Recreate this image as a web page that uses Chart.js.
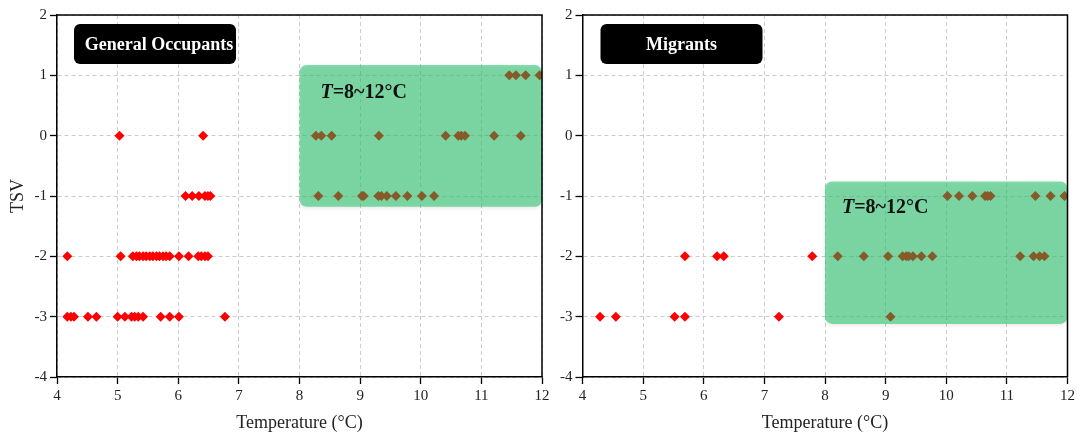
<!DOCTYPE html>
<html>
<head>
<meta charset="utf-8">
<script src="https://cdn.jsdelivr.net/npm/chart.js@4/dist/chart.umd.min.js"></script>
<style>
  html, body { margin: 0; padding: 0; background: #fff; }
  #wrap { position: relative; width: 1078px; height: 437px; }
  canvas { position: absolute; top: 0; }
  #c1 { left: 0; }
  #c2 { left: 555px; }
</style>
</head>
<body>
<div id="wrap">
  <canvas id="c1" width="555" height="437"></canvas>
  <canvas id="c2" width="523" height="437"></canvas>
</div>
<script>
// Axis ticks
const tempTicks = [4, 5, 6, 7, 8, 9, 10, 11, 12];
const tsvTicks = [2, 1, 0, -1, -2, -3, -4];

// Comfort band (temperature range and TSV extent of the shaded box)
const bandTemp = [8, 12];
const bandTsvGeneral = [1.17, -1.18];
const bandTsvMigrants = [-0.76, -3.12];

// General occupants, T < 8 °C (red)
const genColdTSV0 = [5.03, 6.41];
const genColdTSVm1 = [6.12, 6.23, 6.34, 6.44, 6.49, 6.53];
const genColdTSVm2 = [4.17, 5.05, 5.25, 5.31, 5.36, 5.42, 5.47, 5.53, 5.58, 5.64, 5.69, 5.75, 5.80, 5.86, 6.01, 6.17, 6.33, 6.38, 6.44, 6.49];
const genColdTSVm3 = [4.17, 4.23, 4.28, 4.51, 4.65, 5.00, 5.12, 5.23, 5.28, 5.34, 5.42, 5.71, 5.86, 6.01, 6.77];

// General occupants, T = 8~12 °C (brown)
const genWarmTSV1 = [11.46, 11.57, 11.73, 11.96];
const genWarmTSV0 = [8.27, 8.36, 8.53, 9.31, 10.41, 10.62, 10.67, 10.73, 11.21, 11.65];
const genWarmTSVm1 = [8.31, 8.64, 9.03, 9.06, 9.30, 9.35, 9.44, 9.59, 9.78, 10.02, 10.22];

// Migrants, T < 8 °C (red)
const migColdTSVm2 = [5.69, 6.22, 6.33, 7.79];
const migColdTSVm3 = [4.29, 4.55, 5.52, 5.69, 7.24];

// Migrants, T = 8~12 °C (brown)
const migWarmTSVm1 = [10.02, 10.21, 10.43, 10.64, 10.68, 10.73, 11.47, 11.72, 11.95];
const migWarmTSVm2 = [8.21, 8.64, 9.04, 9.28, 9.34, 9.38, 9.45, 9.59, 9.77, 11.22, 11.44, 11.54, 11.62];
const migWarmTSVm3 = [9.08];

const RED = '#ff0000';
const BROWN = '#855b2a';
const SERIF = '"Liberation Serif", "Times New Roman", serif';

function pts(temps, tsv) {
  return temps.map(t => ({ x: t, y: tsv }));
}

function series(rows, color) {
  const data = [];
  rows.forEach(([temps, tsv]) => data.push(...pts(temps, tsv)));
  return {
    data,
    backgroundColor: color,
    borderColor: color,
    borderWidth: 0,
    pointStyle: 'rectRot',
    pointRadius: 5,
    pointHoverRadius: 5
  };
}

// Shaded comfort band, panel tag and closing frame
const decorPlugin = {
  id: 'decor',
  beforeDatasetsDraw(chart, args, opts) {
    const { ctx, chartArea: ca, scales: { x, y } } = chart;
    const x0 = x.getPixelForValue(opts.band[0]);
    const x1 = x.getPixelForValue(opts.band[1]);
    const y0 = y.getPixelForValue(opts.bandTsv[0]);
    const y1 = y.getPixelForValue(opts.bandTsv[1]);

    ctx.save();
    ctx.shadowColor = 'rgba(0,0,0,0.15)';
    ctx.shadowBlur = 4;
    ctx.shadowOffsetY = 1.5;
    ctx.fillStyle = 'rgba(48,198,115,0.6)';
    ctx.beginPath();
    ctx.roundRect(x0, y0, x1 - x0, y1 - y0, 7);
    ctx.fill();
    ctx.restore();

    // "T=8~12°C" label inside the band
    ctx.save();
    ctx.fillStyle = '#111';
    ctx.textBaseline = 'middle';
    ctx.textAlign = 'left';
    const lx = x0 + opts.labelDx;
    const ly = y0 + opts.labelDy;
    ctx.font = 'italic bold 20px ' + SERIF;
    ctx.fillText('T', lx, ly);
    const w = ctx.measureText('T').width;
    ctx.font = 'bold 20px ' + SERIF;
    ctx.fillText('=' + opts.band[0] + '~' + opts.band[1] + '°C', lx + w, ly);
    ctx.restore();

    // panel tag
    ctx.save();
    const tx = ca.left + opts.tagDx, ty = ca.top + 9, tw = 162, th = 40;
    ctx.fillStyle = '#000';
    ctx.beginPath();
    ctx.roundRect(tx, ty, tw, th, 6);
    ctx.fill();
    ctx.fillStyle = '#fff';
    ctx.font = 'bold 18px ' + SERIF;
    ctx.textAlign = 'center';
    ctx.textBaseline = 'middle';
    ctx.fillText(opts.tag, tx + tw / 2 + opts.tagShift, ty + th / 2 + 1);
    ctx.restore();
  },
  afterDraw(chart) {
    const { ctx, chartArea: ca } = chart;
    ctx.save();
    ctx.strokeStyle = '#000';
    ctx.lineWidth = 1.5;
    ctx.beginPath();
    ctx.moveTo(ca.left, ca.top);
    ctx.lineTo(ca.right, ca.top);
    ctx.lineTo(ca.right, ca.bottom);
    ctx.stroke();
    ctx.restore();
  }
};

function makeChart(canvasId, datasets, cfg) {
  return new Chart(document.getElementById(canvasId), {
    type: 'scatter',
    data: { datasets },
    plugins: [decorPlugin],
    options: {
      responsive: false,
      animation: false,
      events: [],
      layout: { padding: { top: 15, right: cfg.padRight, left: 0, bottom: 0 } },
      plugins: {
        legend: { display: false },
        tooltip: { enabled: false },
        decor: cfg.decor
      },
      scales: {
        x: {
          type: 'linear',
          min: tempTicks[0],
          max: tempTicks[tempTicks.length - 1],
          afterBuildTicks: s => { s.ticks = tempTicks.map(v => ({ value: v })); },
          afterFit: s => { s.height = 60; },
          ticks: { font: { family: SERIF, size: 15 }, color: '#222', padding: 3, maxRotation: 0 },
          grid: { color: '#cccccc', lineWidth: 1, tickLength: 7, tickColor: '#000', tickWidth: 1.3 },
          border: { color: '#000', width: 1.5, dash: [4, 3] },
          title: { display: true, text: 'Temperature (°C)', font: { family: SERIF, size: 18 }, color: '#222', padding: { top: 4, bottom: 3 } }
        },
        y: {
          type: 'linear',
          min: tsvTicks[tsvTicks.length - 1],
          max: tsvTicks[0],
          afterBuildTicks: s => { s.ticks = tsvTicks.map(v => ({ value: v })); },
          afterFit: s => { s.width = cfg.yWidth; },
          ticks: { font: { family: SERIF, size: 15 }, color: '#222', padding: 3 },
          grid: { color: '#cccccc', lineWidth: 1, tickLength: 7, tickColor: '#000', tickWidth: 1.3 },
          border: { color: '#000', width: 1.5, dash: [4, 3] },
          title: { display: cfg.yTitle, text: 'TSV', font: { family: SERIF, size: 18 }, color: '#222', padding: { top: 7, bottom: 0 } }
        }
      }
    }
  });
}

makeChart('c1', [
  series([[genColdTSV0, 0], [genColdTSVm1, -1], [genColdTSVm2, -2], [genColdTSVm3, -3]], RED),
  series([[genWarmTSV1, 1], [genWarmTSV0, 0], [genWarmTSVm1, -1]], BROWN)
], {
  padRight: 13,
  yWidth: 57,
  yTitle: true,
  decor: { band: bandTemp, bandTsv: bandTsvGeneral, labelDx: 21, labelDy: 28, tag: 'General Occupants', tagDx: 17, tagShift: 4 }
});

makeChart('c2', [
  series([[migColdTSVm2, -2], [migColdTSVm3, -3]], RED),
  series([[migWarmTSVm1, -1], [migWarmTSVm2, -2], [migWarmTSVm3, -3]], BROWN)
], {
  padRight: 10,
  yWidth: 27.5,
  yTitle: false,
  decor: { band: bandTemp, bandTsv: bandTsvMigrants, labelDx: 17, labelDy: 26, tag: 'Migrants', tagDx: 18, tagShift: 0 }
});
</script>
</body>
</html>
